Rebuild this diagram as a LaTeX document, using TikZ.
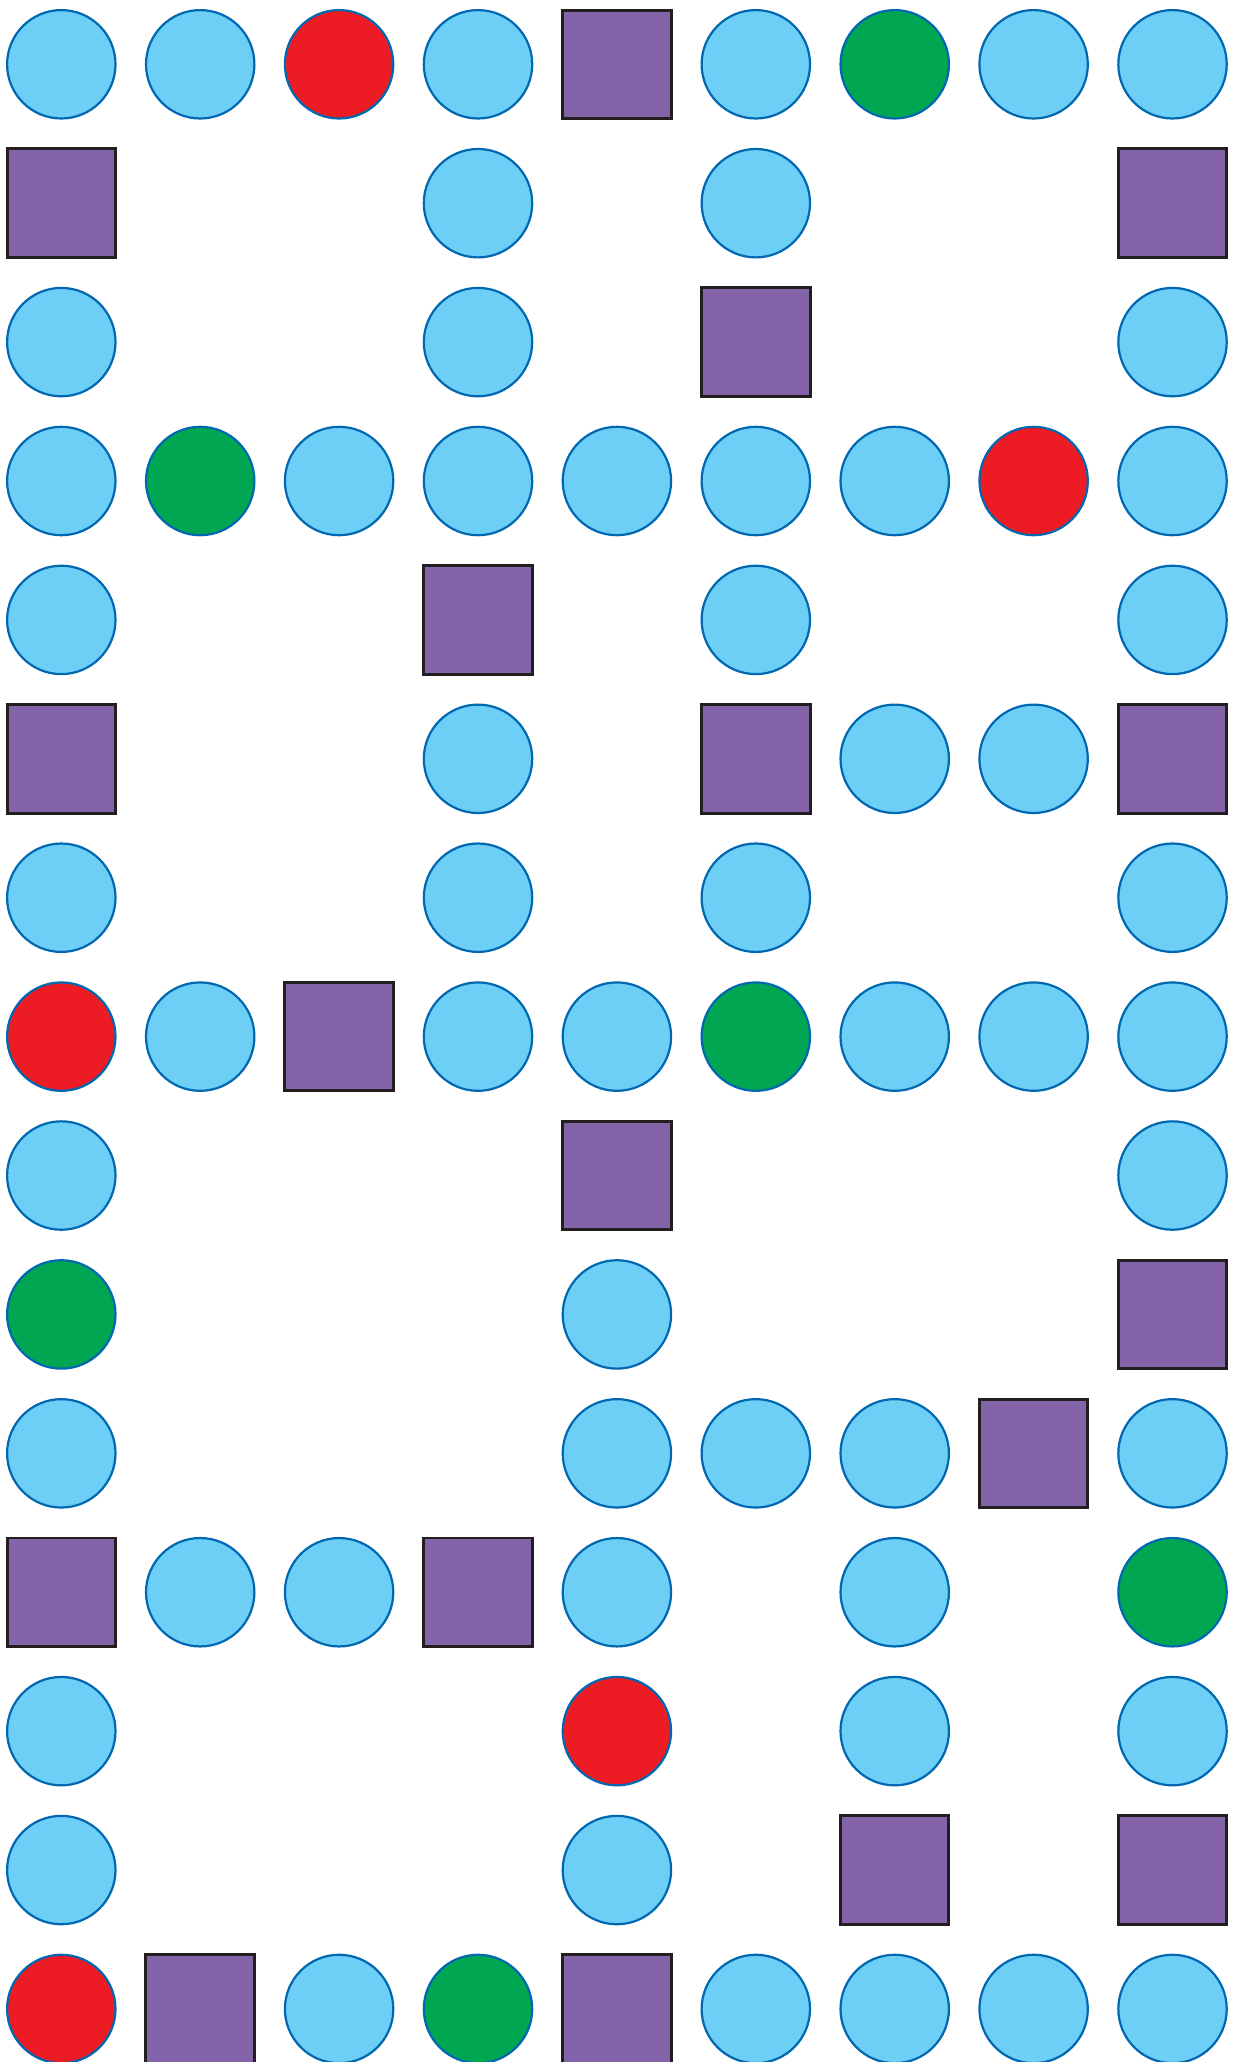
\documentclass[tikz,border=0pt]{standalone}
\usepackage{tikz}
\usepackage{xcolor}
\usetikzlibrary{positioning}

\definecolor{dotfill}{HTML}{6DCFF6}
\definecolor{dotline}{HTML}{0067B1}
\definecolor{dotred}{HTML}{ED1C24}
\definecolor{dotgreen}{HTML}{00A651}
\definecolor{boxfill}{HTML}{8364A8}
\definecolor{boxline}{HTML}{231F20}

\tikzset{
    dot/.style={circle, draw=dotline, line width=1.25pt, minimum size=2.168cm, inner sep=0pt},
    cell-c/.style={dot, fill=dotfill},
    cell-r/.style={dot, fill=dotred},
    cell-g/.style={dot, fill=dotgreen},
    cell-s/.style={rectangle, draw=boxline, fill=boxfill, line width=1.7pt, minimum size=2.17cm, inner sep=0pt}
}
\def\nocell{n}

\begin{document}
\begin{tikzpicture}[x=2.778cm, y=-2.778cm]
    \useasboundingbox (0.5587,0.5371) rectangle (9.4284,15.382);
    % board, row by row (n = empty square)
    \foreach \row/\cells in {
        1/{c,c,r,c,s,c,g,c,c},
        2/{s,n,n,c,n,c,n,n,s},
        3/{c,n,n,c,n,s,n,n,c},
        4/{c,g,c,c,c,c,c,r,c},
        5/{c,n,n,s,n,c,n,n,c},
        6/{s,n,n,c,n,s,c,c,s},
        7/{c,n,n,c,n,c,n,n,c},
        8/{r,c,s,c,c,g,c,c,c},
        9/{c,n,n,n,s,n,n,n,c},
        10/{g,n,n,n,c,n,n,n,s},
        11/{c,n,n,n,c,c,c,s,c},
        12/{s,c,c,s,c,n,c,n,g},
        13/{c,n,n,n,r,n,c,n,c},
        14/{c,n,n,n,c,n,s,n,s},
        15/{r,s,c,g,s,c,c,c,c}}
    {
        \foreach \kind [count=\col] in \cells {
            \ifx\kind\nocell\else
                \node[cell-\kind] (cell-\row-\col) at (\col,\row) {};
            \fi
        }
    }
\end{tikzpicture}
\end{document}
